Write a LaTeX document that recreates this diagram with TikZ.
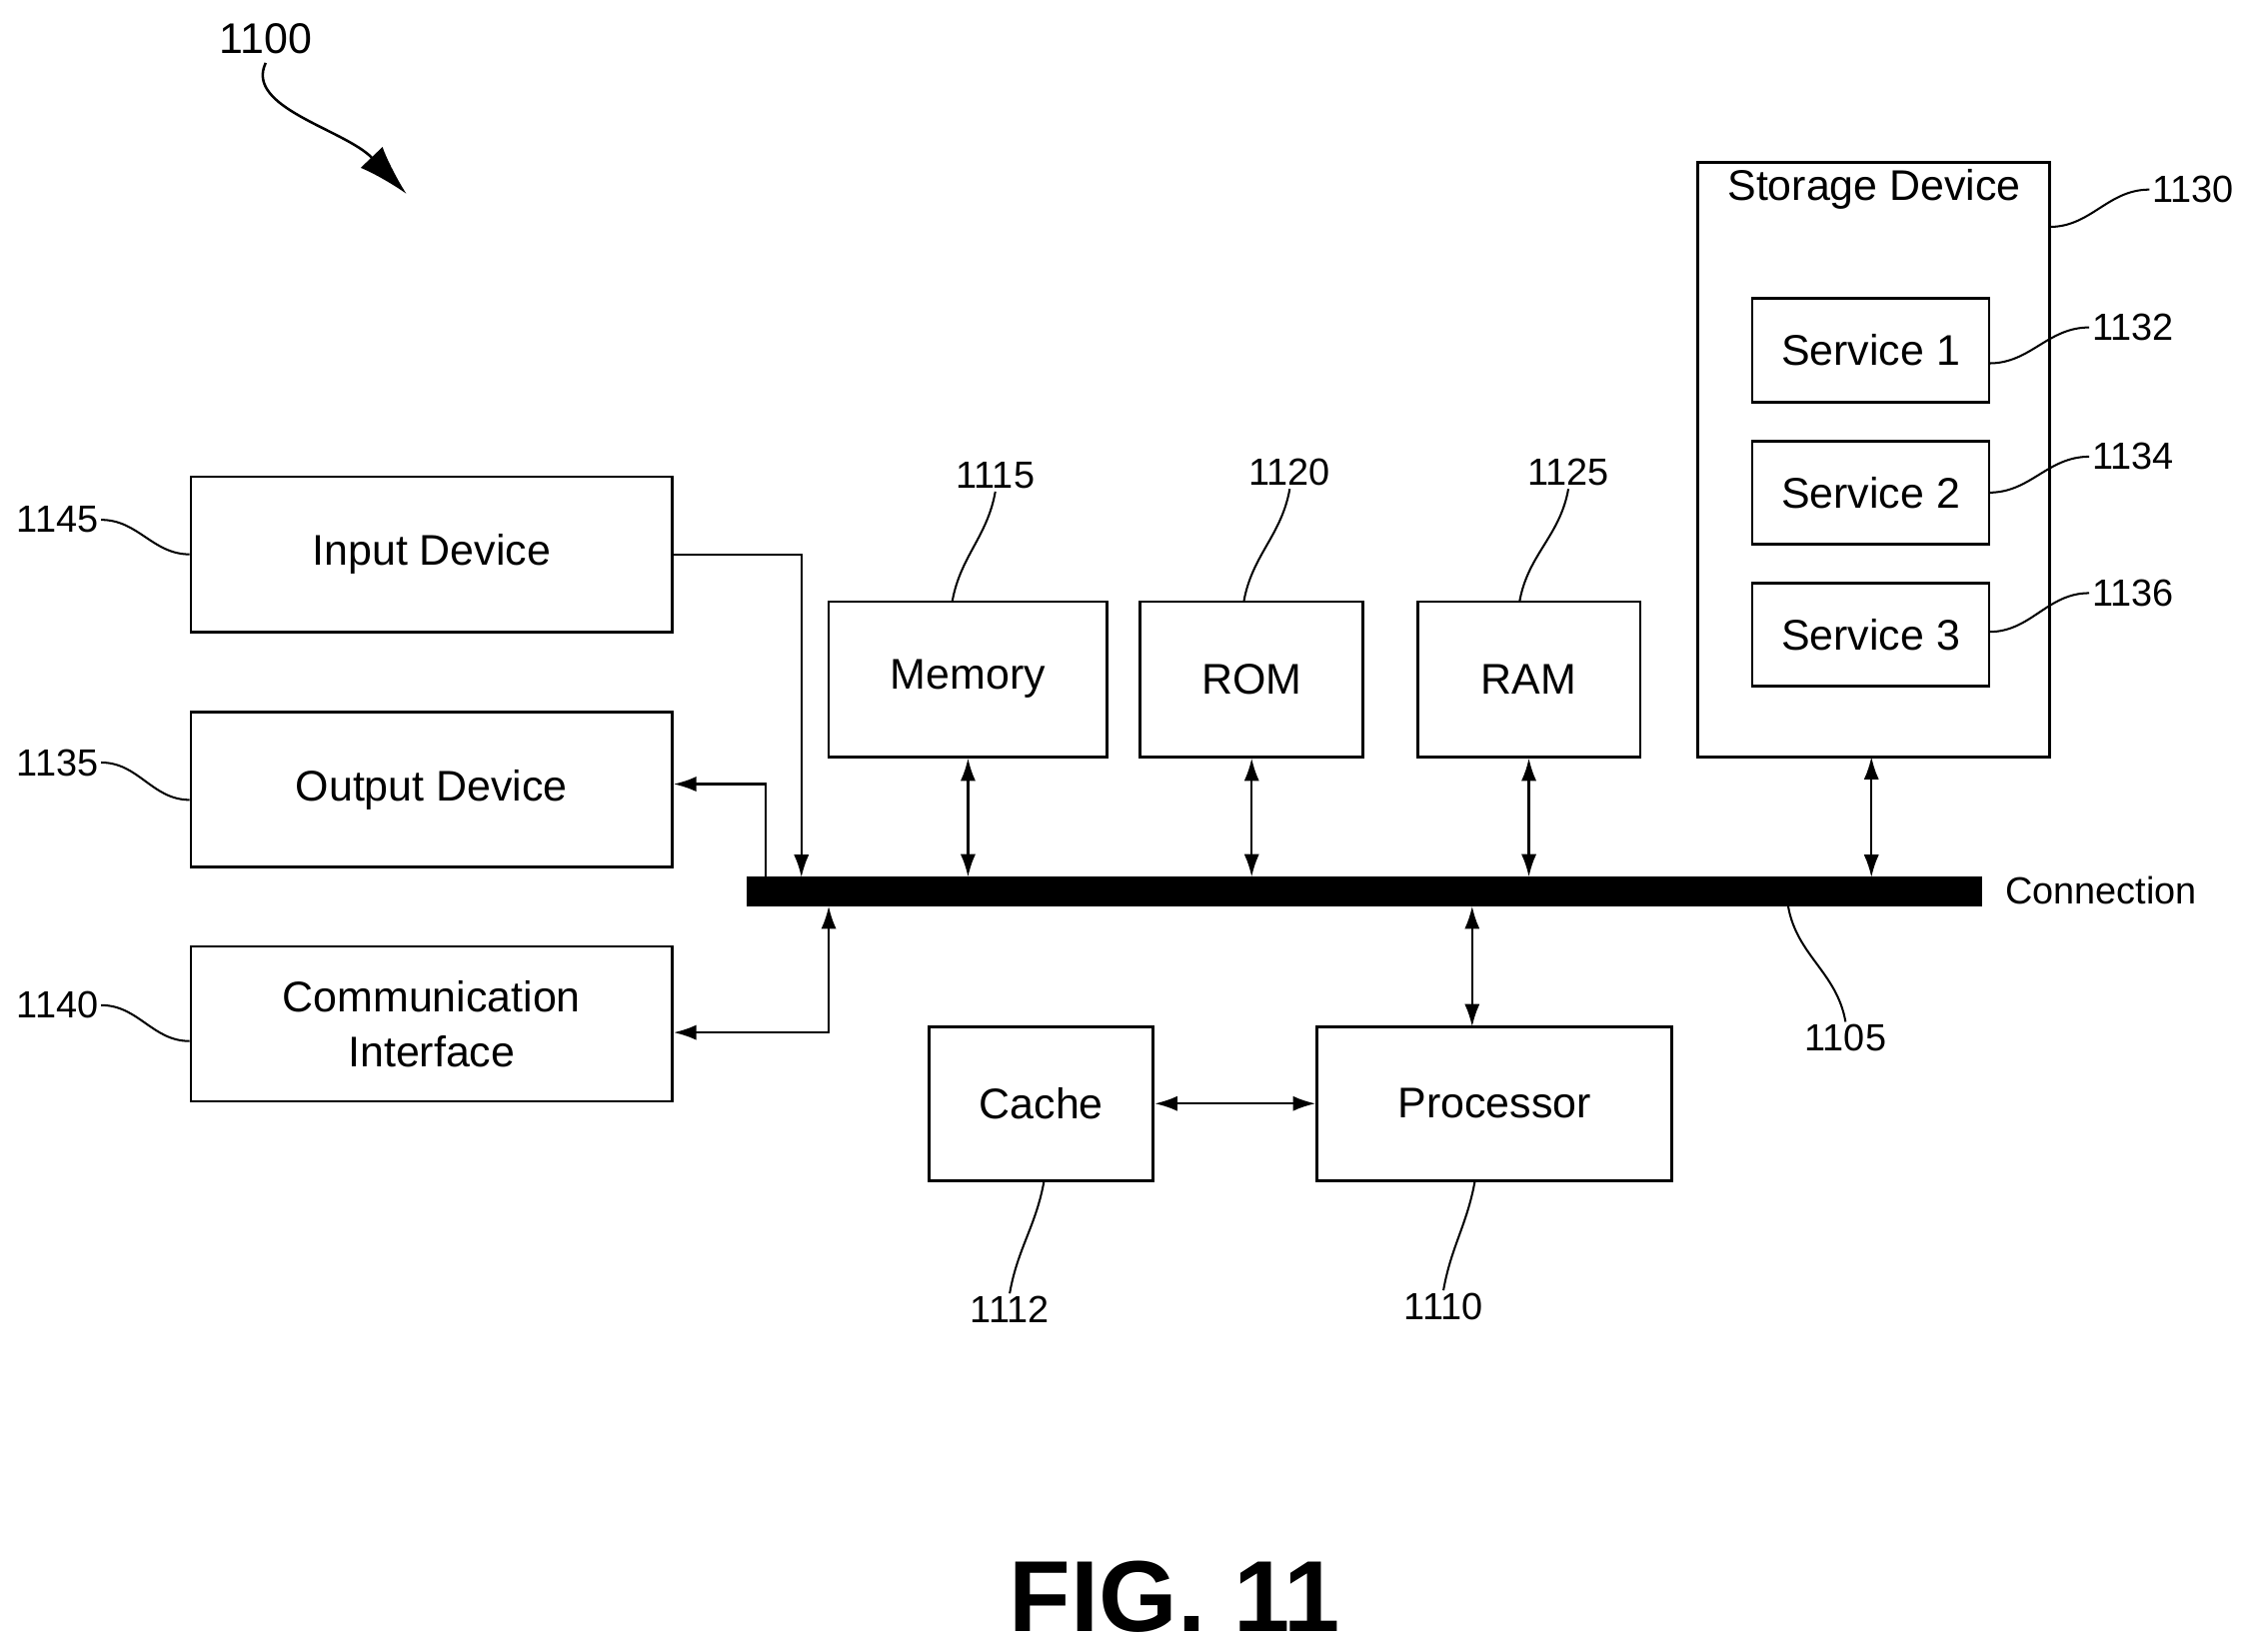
\documentclass[tikz,border=0pt]{standalone}
\usepackage{fontspec}
\setmainfont{Liberation Sans}
\usetikzlibrary{arrows.meta}
\begin{document}
\begin{tikzpicture}[x=0.02cm,y=-0.02cm,
  box/.style={draw,line width=1.1pt,inner sep=0pt,font=\fontsize{17}{20}\selectfont,align=center},
  lbl/.style={font=\fontsize{15}{17}\selectfont,inner sep=1pt},
  con/.style={line width=0.9pt},
  tip/.style={-{Latex[length=9pt,width=6pt]}},
  dtip/.style={{Latex[length=9pt,width=6pt]}-{Latex[length=9pt,width=6pt]}},
  sq/.style={line width=0.8pt}]
\useasboundingbox (0,0) rectangle (1568,1150);
% boxes
\node[box,minimum width=335*0.02cm,minimum height=108*0.02cm] (in) at (300.5,386) {Input Device};
\node[box,minimum width=335*0.02cm,minimum height=108*0.02cm] (out) at (300.5,550) {Output Device};
\node[box,minimum width=335*0.02cm,minimum height=108*0.02cm] (com) at (300.5,713) {Communication\\[2pt]Interface};
\node[box,minimum width=194*0.02cm,minimum height=108*0.02cm] (mem) at (674,473) {Memory};
\node[box,minimum width=155*0.02cm,minimum height=108*0.02cm] (rom) at (871.5,473) {ROM};
\node[box,minimum width=155*0.02cm,minimum height=108*0.02cm] (ram) at (1064.5,473) {RAM};
\node[box,minimum width=245*0.02cm,minimum height=414*0.02cm] (sto) at (1304.5,320) {};
\node[font=\fontsize{17}{20}\selectfont] (stot) at (1305,132) {Storage Device};
\node[box,minimum width=165*0.02cm,minimum height=72*0.02cm] (s1) at (1302.5,244) {Service 1};
\node[box,minimum width=165*0.02cm,minimum height=72*0.02cm] (s2) at (1302.5,343) {Service 2};
\node[box,minimum width=165*0.02cm,minimum height=72*0.02cm] (s3) at (1302.5,442) {Service 3};
\node[box,minimum width=156*0.02cm,minimum height=107*0.02cm] (cache) at (725,768.5) {Cache};
\node[box,minimum width=247*0.02cm,minimum height=107*0.02cm] (proc) at (1040.5,768.5) {Processor};
\node[draw,fill=black,inner sep=0pt,minimum width=860*0.02cm,minimum height=20*0.02cm] (bus) at (950,621) {};
\node[font=\fontsize{15}{17}\selectfont,anchor=west] (conn) at (1390,620) {Connection};
% connectors
\coordinate (b1) at (558,611); \coordinate (b2) at (533,611); \coordinate (b3) at (577,631);
\draw[con,tip] (in.east |- 0,386) -| (b1);
\draw[con,tip] (b2) |- (out.east |- 0,546);
\draw[con,dtip] (com.east |- 0,719) -| (b3);
\draw[con,dtip] (mem.south) -- (mem.south |- bus.north);
\draw[con,dtip] (rom.south) -- (rom.south |- bus.north);
\draw[con,dtip] (ram.south) -- (ram.south |- bus.north);
\draw[con,dtip] (1303,527) -- (1303,611);
\draw[con,dtip] (1025,631) -- (1025,715);
\draw[con,dtip] (cache.east) -- (proc.west);
% labels
\node[lbl] (l1145) at (40,362) {1145};
\node[lbl] (l1135) at (40,531) {1135};
\node[lbl] (l1140) at (40,700) {1140};
\node[lbl] (l1115) at (693,331) {1115};
\node[lbl] (l1120) at (898,329) {1120};
\node[lbl] (l1125) at (1092,329) {1125};
\node[lbl] (l1130) at (1527,132) {1130};
\node[lbl] (l1132) at (1485,228) {1132};
\node[lbl] (l1134) at (1485,318) {1134};
\node[lbl] (l1136) at (1485,413) {1136};
\node[lbl] (l1105) at (1285,723) {1105};
\node[lbl] (l1112) at (703,912) {1112};
\node[lbl] (l1110) at (1005,910) {1110};
\node[font=\fontsize{17}{20}\selectfont] (l1100) at (185,27) {1100};
\node[font=\fontsize{40}{44}\selectfont\bfseries] (fig) at (818,1112) {FIG. 11};
% leader squiggles
\draw[sq] (l1145.east) to[out=0,in=180] (in.west |- 0,386);
\draw[sq] (l1135.east) to[out=0,in=180] (out.west |- 0,557);
\draw[sq] (l1140.east) to[out=0,in=180] (com.west |- 0,725);
\draw[sq] (l1115.south) to[out=-100,in=80] (663,419);
\draw[sq] (l1120.south) to[out=-100,in=80] (866,419);
\draw[sq] (l1125.south) to[out=-100,in=80] (1058,419);
\draw[sq] (1427,158) to[out=0,in=180] (l1130.west);
\draw[sq] (1385,253) to[out=0,in=180] (l1132.west);
\draw[sq] (1385,343) to[out=0,in=180] (l1134.west);
\draw[sq] (1385,440) to[out=0,in=180] (l1136.west);
\draw[sq] (1245,631) to[out=-80,in=100] (l1105.north);
\draw[sq] (727,822) to[out=-100,in=80] (l1112.north);
\draw[sq] (1027,822) to[out=-100,in=80] (l1110.north);
\coordinate (a1100) at (283,135);
\draw[line width=1pt,-{Latex[length=20pt,width=12pt]}] (l1100.south) .. controls (170,75) and (240,90) .. (a1100);
\end{tikzpicture}
\end{document}
